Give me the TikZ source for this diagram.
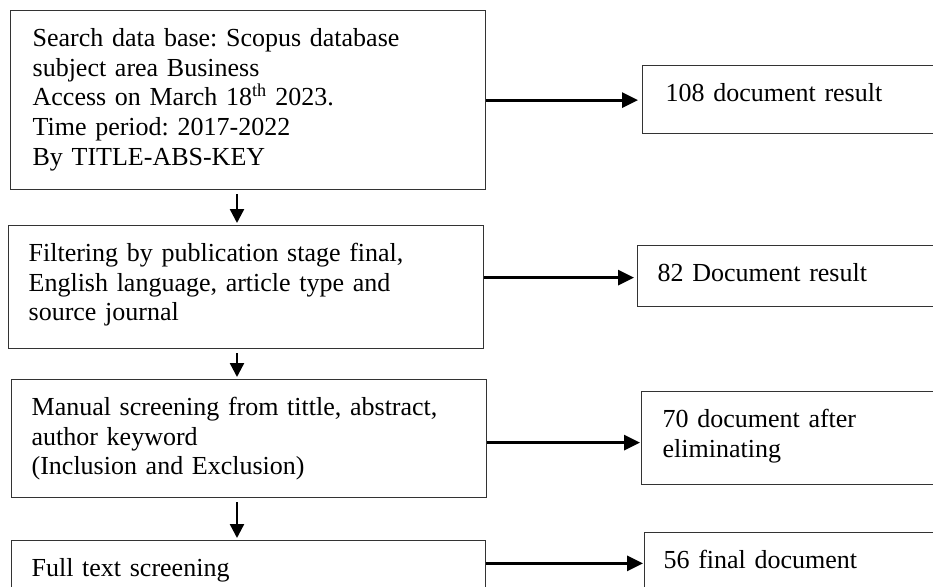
\documentclass[tikz,border=0pt]{standalone}
\usepackage{fontspec}
\setmainfont{Liberation Serif}
\usetikzlibrary{arrows.meta}
\frenchspacing
\tikzset{
  box/.style={draw=black!80, line width=1.3pt, anchor=north west, inner ysep=0pt,
    align=left, text height=35.5pt, font=\fontsize{26}{29.9}\selectfont\frenchspacing},
  varr/.style={line width=2.4pt, -{Triangle[length=14pt,width=14pt]}},
  harr/.style={line width=3pt, -{Triangle[length=16pt,width=15pt]}}
}
\begin{document}
\begin{tikzpicture}[x=1pt,y=-1pt]
\useasboundingbox (0,0) rectangle (933,586);
\clip (0,0) rectangle (933,586);
% left column
\node[box, inner xsep=22pt, text width=431pt, text depth=143.5pt] (b1) at (10,10)
  {Search data base: Scopus database\\subject area Business\\Access on March 18\textsuperscript{th} 2023.\\Time period: 2017-2022\\By TITLE-ABS-KEY};
\node[box, inner xsep=20pt, text width=435pt, text depth=87.5pt] (b2) at (8,225)
  {Filtering by publication stage final,\\English language, article type and\\source journal};
\node[box, inner xsep=20pt, text width=435pt, text depth=82.5pt] (b3) at (11,379)
  {Manual screening from tittle, abstract,\\author keyword\\(Inclusion and Exclusion)};
\node[box, inner xsep=20pt, text width=434pt, text depth=26pt] (b4) at (11,540)
  {Full text screening};
% right column
\node[box, inner xsep=23pt, text width=257pt, text depth=32.5pt] (r1) at (642,65)
  {108 document result};
\node[box, inner xsep=20pt, text width=268pt, text depth=25.5pt] (r2) at (637,245)
  {82 Document result};
\node[box, inner xsep=21pt, text width=262pt, text depth=57.5pt] (r3) at (641,391)
  {70 document after\\eliminating};
\node[box, inner xsep=19pt, text width=263pt, text depth=35pt] (r4) at (644,532)
  {56 final document};
% vertical connectors
\draw[varr] ([xshift=227pt,yshift=-4pt]b1.south west) -- ([xshift=229pt,yshift=2pt]b2.north west);
\draw[varr] ([xshift=229pt,yshift=-4pt]b2.south west) -- ([xshift=226pt,yshift=2pt]b3.north west);
\draw[varr] ([xshift=226pt,yshift=-4pt]b3.south west) -- ([xshift=226pt,yshift=2pt]b4.north west);
% horizontal connectors
\draw[harr, shorten >=4pt] (b1.east) coordinate (a1) -- (a1 -| r1.west);
\draw[harr, shorten >=3pt] ([yshift=9.5pt]b2.east) coordinate (a2) -- (a2 -| r2.west);
\draw[harr, shorten >=1pt] ([yshift=-4pt]b3.east) coordinate (a3) -- (a3 -| r3.west);
\draw[harr, shorten >=1pt] ([yshift=8pt]b4.east) coordinate (a4) -- (a4 -| r4.west);
\end{tikzpicture}
\end{document}
